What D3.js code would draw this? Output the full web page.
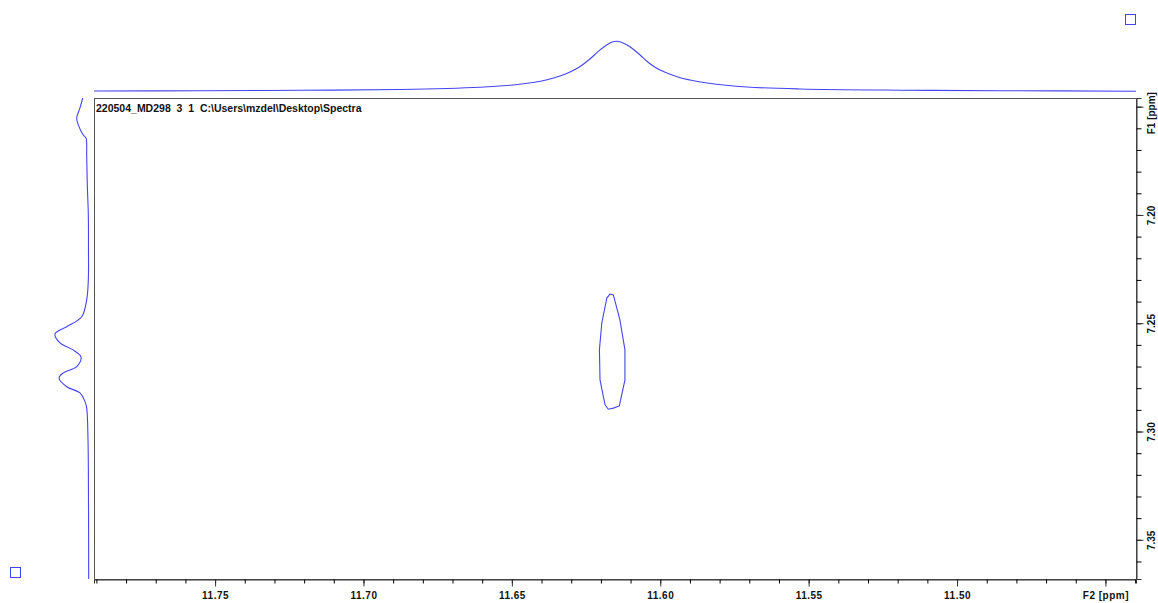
<!DOCTYPE html>
<html>
<head>
<meta charset="utf-8">
<script src="https://cdn.jsdelivr.net/npm/d3@7"></script>
<style>
  body { margin: 0; background: #fff; }
  svg { display: block; }
  text { font-family: "Liberation Sans", Arial, sans-serif; font-weight: bold; fill: #111; }
</style>
</head>
<body>
<script>
// F2 projection (top): ppm, intensity
const f2ProjPpm = [11.7908, 11.7551, 11.7214, 11.6877, 11.6607, 11.6496, 11.6429, 11.6381, 11.6338,
    11.6304, 11.6270, 11.6237, 11.6210, 11.6183, 11.6166, 11.6147, 11.6129, 11.6112, 11.6092,
    11.6068, 11.6044, 11.6024, 11.6001, 11.5977, 11.5933, 11.5900, 11.5842, 11.5708, 11.5529,
    11.5192, 11.4855, 11.4397];
const f2ProjInt = [1, 1.6, 2.4, 4, 8.4, 12.9, 17.9, 23.5, 30.9,
    38.8, 49.8, 64.7, 79.3, 91.6, 97.6, 100, 97.6, 92.6, 84.7,
    72.7, 59.8, 50.8, 42.8, 36.9, 27.5, 22.9, 16.9, 9, 5,
    2.6, 1.6, 0.6];

// F1 projection (left): ppm, intensity
const f1ProjPpm = [7.1460, 7.1506, 7.1552, 7.1584, 7.1631, 7.1645, 7.1723, 7.1861, 7.2000, 7.2162,
    7.2300, 7.2392, 7.2470, 7.2516, 7.2549, 7.2591, 7.2623, 7.2656, 7.2700, 7.2729, 7.2753,
    7.2793, 7.2822, 7.2862, 7.2891, 7.3039, 7.3316, 7.3681];
const f1ProjInt = [18.5, 26.5, 36.2, 31.5, 16.8, 8.8, 6.8, 5, 2, 1.5,
    2, 6.8, 21.5, 65.6, 100, 85.3, 47, 23.5, 36.2, 75.6, 88.2,
    65.6, 26.5, 11.8, 6.8, 2.9, 1.5, 0.9];

// single contour level of the cross peak
const contourF2 = [11.6169, 11.6158, 11.6136, 11.6119, 11.6119, 11.6138, 11.6158, 11.6175, 11.6186,
    11.6203, 11.6205, 11.6197, 11.6180];
const contourF1 = [7.2365, 7.2369, 7.2485, 7.2623, 7.2762, 7.2882, 7.2892, 7.2897, 7.2877,
    7.2762, 7.2623, 7.2499, 7.2384];

const f2Major = [11.75, 11.70, 11.65, 11.60, 11.55, 11.50, 11.45];
const f2Labels = ["11.75", "11.70", "11.65", "11.60", "11.55", "11.50", "F2 [ppm]"];
const f1Major = [7.15, 7.20, 7.25, 7.30, 7.35];
const f1Labels = ["F1 [ppm]", "7.20", "7.25", "7.30", "7.35"];

const title = "220504_MD298\u00a0\u00a03\u00a0\u00a01\u00a0\u00a0C:\\Users\\mzdel\\Desktop\\Spectra";

const width = 1158, height = 603;
const plot = {left: 94, right: 1136, top: 98, bottom: 579};
const blue = "#4444f2";

const svg = d3.select("body").append("svg")
    .attr("width", width)
    .attr("height", height);

const x = d3.scaleLinear()
    .domain([11.7908, 11.4397])
    .range([plot.left, plot.right]);

const y = d3.scaleLinear()
    .domain([7.146, 7.3681])
    .range([plot.top, plot.bottom]);

// projection scales
const topY = d3.scaleLinear().domain([0, 100]).range([91.5, 41.3]);
const leftX = d3.scaleLinear().domain([0, 100]).range([89, 55]);

// frame
svg.append("rect")
    .attr("x", plot.left + 0.5)
    .attr("y", plot.top + 0.5)
    .attr("width", plot.right - plot.left)
    .attr("height", plot.bottom - plot.top)
    .attr("fill", "none")
    .attr("stroke", "#555");

// bottom axis
const xMinor = x.ticks(35);
svg.append("g")
    .attr("transform", "translate(0," + (plot.bottom + 0.5) + ")")
    .call(d3.axisBottom(x).tickValues(xMinor).tickSize(4).tickFormat(""))
    .call(g => g.select(".domain").attr("stroke", "#333"));

const xAx = svg.append("g")
    .attr("transform", "translate(0," + (plot.bottom + 0.5) + ")")
    .call(d3.axisBottom(x).tickValues(f2Major).tickSize(7)
        .tickFormat((d, i) => f2Labels[i]));
xAx.select(".domain").remove();
xAx.selectAll("line").attr("stroke", "#333");
xAx.selectAll("text")
    .attr("y", 12)
    .attr("dy", "0.71em")
    .style("font-size", "10px")
    .style("letter-spacing", "0.5px")
    .attr("font-family", null);

// right axis
const yMinor = y.ticks(22);
svg.append("g")
    .attr("transform", "translate(" + (plot.right + 0.5) + ",0)")
    .call(d3.axisRight(y).tickValues(yMinor).tickSize(5).tickFormat(""))
    .call(g => g.select(".domain").attr("stroke", "#333"));

const yAx = svg.append("g")
    .attr("transform", "translate(" + (plot.right + 0.5) + ",0)")
    .call(d3.axisRight(y).tickValues(f1Major).tickSize(7)
        .tickFormat((d, i) => f1Labels[i]));
yAx.select(".domain").remove();
yAx.selectAll("line").attr("stroke", "#333");
yAx.selectAll("text")
    .attr("x", null)
    .attr("dy", null)
    .attr("text-anchor", "middle")
    .attr("transform", (d, i) => "translate(18," + (i === 0 ? 6 : 0) + ") rotate(-90)")
    .style("font-size", "10px")
    .attr("font-family", null);

// title inside the frame
svg.append("text")
    .attr("x", plot.left + 2)
    .attr("y", plot.top + 14)
    .style("font-size", "10.5px")
    .text(title);

// top projection
const topLine = d3.line()
    .x((d, i) => x(f2ProjPpm[i]))
    .y(d => topY(d))
    .curve(d3.curveCatmullRom);

svg.append("path")
    .datum(f2ProjInt)
    .attr("d", topLine)
    .attr("fill", "none")
    .attr("stroke", blue)
    .attr("stroke-width", 1.1);

// left projection
const leftLine = d3.line()
    .x(d => leftX(d))
    .y((d, i) => y(f1ProjPpm[i]))
    .curve(d3.curveCatmullRom);

svg.append("path")
    .datum(f1ProjInt)
    .attr("d", leftLine)
    .attr("fill", "none")
    .attr("stroke", blue)
    .attr("stroke-width", 1.1);

// contour
const contourLine = d3.line()
    .x((d, i) => x(contourF2[i]))
    .y(d => y(d))
    .curve(d3.curveLinearClosed);

svg.append("path")
    .datum(contourF1)
    .attr("d", contourLine)
    .attr("fill", "none")
    .attr("stroke", blue)
    .attr("stroke-width", 1.1);

// corner markers
svg.append("rect")
    .attr("x", 1125.5).attr("y", 14.5)
    .attr("width", 10).attr("height", 10)
    .attr("fill", "none").attr("stroke", blue);
svg.append("rect")
    .attr("x", 10.5).attr("y", 567.5)
    .attr("width", 10).attr("height", 10)
    .attr("fill", "none").attr("stroke", blue);
</script>
</body>
</html>
